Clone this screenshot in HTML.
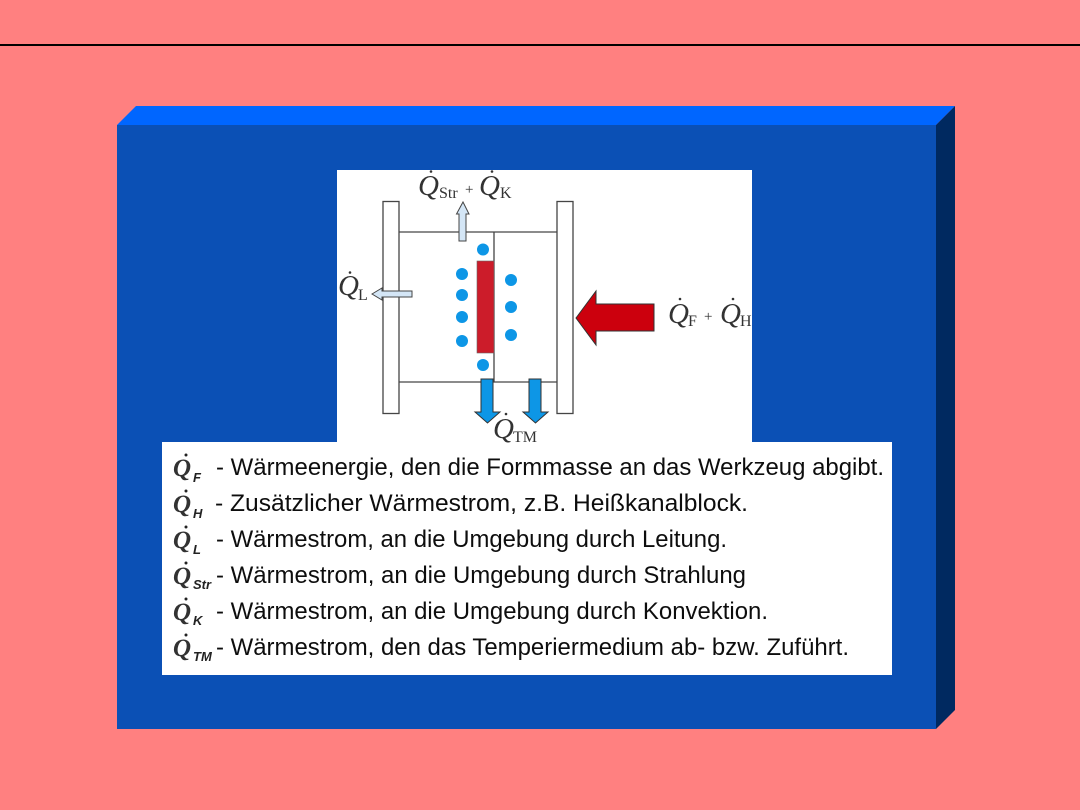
<!DOCTYPE html>
<html>
<head>
<meta charset="utf-8">
<style>
html,body{margin:0;padding:0;background:#ff8080;width:1080px;height:810px;overflow:hidden}
svg{display:block}
.s{font-family:"Liberation Serif",serif;fill:#333}
.q{font-style:italic;font-size:29px}
.b{font-size:16px}
.p{font-size:15px}
.lq{font-family:"Liberation Serif",serif;font-style:italic;font-weight:bold;font-size:25px;fill:#333}
.ls{font-family:"Liberation Sans",sans-serif;font-style:italic;font-weight:bold;font-size:13px;fill:#222}
.lt{font-family:"Liberation Sans",sans-serif;font-size:24px;fill:#111}
</style>
</head>
<body>
<svg width="1080" height="810" viewBox="0 0 1080 810" xmlns="http://www.w3.org/2000/svg">
<defs><filter id="soft" x="0" y="0" width="100%" height="100%"><feGaussianBlur stdDeviation="0.35"/></filter></defs>
<rect width="1080" height="810" fill="#ff8080"/>
<rect x="0" y="44" width="1080" height="2" fill="#000"/>

<polygon points="117,125 136,106 955,106 936,125" fill="#0066ff"/>
<polygon points="936,125 955,106 955,710 936,729" fill="#002960"/>
<rect x="117" y="125" width="819" height="604" fill="#0b50b5"/>

<rect x="337" y="170" width="415" height="272" fill="#fff"/>
<rect x="162" y="442" width="730" height="233" fill="#fff"/>

<g filter="url(#soft)">
<g stroke="#444" stroke-width="1.300" fill="#fff">
<rect x="383" y="201.500" width="16" height="212"/>
<rect x="557" y="201.500" width="16" height="212"/>
</g>
<g stroke="#444" stroke-width="1.300" fill="none">
<line x1="399" y1="232" x2="557" y2="232"/>
<line x1="399" y1="382" x2="557" y2="382"/>
<line x1="494" y1="232" x2="494" y2="382"/>
</g>
<rect x="477" y="261" width="17" height="92" fill="#cc1c2c" stroke="#666" stroke-width="0.600"/>
<g fill="#0a96e6">
<circle cx="483" cy="249.500" r="6"/>
<circle cx="462" cy="274" r="6"/>
<circle cx="462" cy="295" r="6"/>
<circle cx="462" cy="317" r="6"/>
<circle cx="462" cy="341" r="6"/>
<circle cx="511" cy="280" r="6"/>
<circle cx="511" cy="307" r="6"/>
<circle cx="511" cy="335" r="6"/>
<circle cx="483" cy="365" r="6"/>
</g>

<polygon points="463,202 469,214 466,214 466,241 459,241 459,214 456.500,214" fill="#d4e6f6" stroke="#444" stroke-width="1"/>
<polygon points="372,294 382,288 382,291 412,291 412,297 382,297 382,300" fill="#d4e6f6" stroke="#444" stroke-width="1"/>
<polygon points="576,318 596,291 596,304 654,304 654,331 596,331 596,345" fill="#cc0008" stroke="#333" stroke-width="1"/>
<polygon points="481,379 493,379 493,412 500,412 487.500,423 475,412 481,412" fill="#0a96e6" stroke="#333" stroke-width="1"/>
<polygon points="529,379 541,379 541,412 548,412 535.500,423 523,412 529,412" fill="#0a96e6" stroke="#333" stroke-width="1"/>

<text class="s q" x="418" y="195">Q</text>
<circle cx="431" cy="171.500" r="1.300" fill="#333"/>
<text class="s b" x="439" y="198">Str</text>
<text class="s p" x="465" y="194">+</text>
<text class="s q" x="479" y="195">Q</text>
<circle cx="492" cy="171.500" r="1.300" fill="#333"/>
<text class="s b" x="500" y="198">K</text>

<text class="s q" x="338" y="295">Q</text>
<circle cx="350" cy="272.500" r="1.300" fill="#333"/>
<text class="s b" x="358" y="300">L</text>

<text class="s q" x="668" y="323">Q</text>
<circle cx="680" cy="299" r="1.300" fill="#333"/>
<text class="s b" x="688" y="326">F</text>
<text class="s p" x="704" y="321">+</text>
<text class="s q" x="720" y="323">Q</text>
<circle cx="733" cy="299" r="1.300" fill="#333"/>
<text class="s b" x="740" y="326">H</text>

<text class="s q" x="493" y="438">Q</text>
<circle cx="506" cy="414" r="1.300" fill="#333"/>
<text class="s b" x="513" y="442">TM</text>

<g fill="#222">
<circle cx="186" cy="455" r="1.500"/>
<circle cx="186" cy="491" r="1.500"/>
<circle cx="186" cy="527" r="1.500"/>
<circle cx="186" cy="563" r="1.500"/>
<circle cx="186" cy="599" r="1.500"/>
<circle cx="186" cy="635" r="1.500"/>
</g>
<text class="lq" x="173" y="476">Q</text>
<text class="lq" x="173" y="512">Q</text>
<text class="lq" x="173" y="548">Q</text>
<text class="lq" x="173" y="584">Q</text>
<text class="lq" x="173" y="620">Q</text>
<text class="lq" x="173" y="656">Q</text>
<text class="ls" x="193" y="482">F</text>
<text class="ls" x="193" y="518">H</text>
<text class="ls" x="193" y="554">L</text>
<text class="ls" x="193" y="589">Str</text>
<text class="ls" x="193" y="625">K</text>
<text class="ls" x="193" y="661">TM</text>

<text class="lt" x="216" y="475" textLength="668" lengthAdjust="spacingAndGlyphs">- Wärmeenergie, den die Formmasse an das Werkzeug abgibt.</text>
<text class="lt" x="215" y="511" textLength="533" lengthAdjust="spacingAndGlyphs">- Zusätzlicher Wärmestrom, z.B. Heißkanalblock.</text>
<text class="lt" x="216" y="547" textLength="511" lengthAdjust="spacingAndGlyphs">- Wärmestrom, an die Umgebung durch Leitung.</text>
<text class="lt" x="216" y="583" textLength="530" lengthAdjust="spacingAndGlyphs">- Wärmestrom, an die Umgebung durch Strahlung</text>
<text class="lt" x="216" y="619" textLength="552" lengthAdjust="spacingAndGlyphs">- Wärmestrom, an die Umgebung durch Konvektion.</text>
<text class="lt" x="216" y="655" textLength="633" lengthAdjust="spacingAndGlyphs">- Wärmestrom, den das Temperiermedium ab- bzw. Zuführt.</text>
</g>
</svg>
</body>
</html>
